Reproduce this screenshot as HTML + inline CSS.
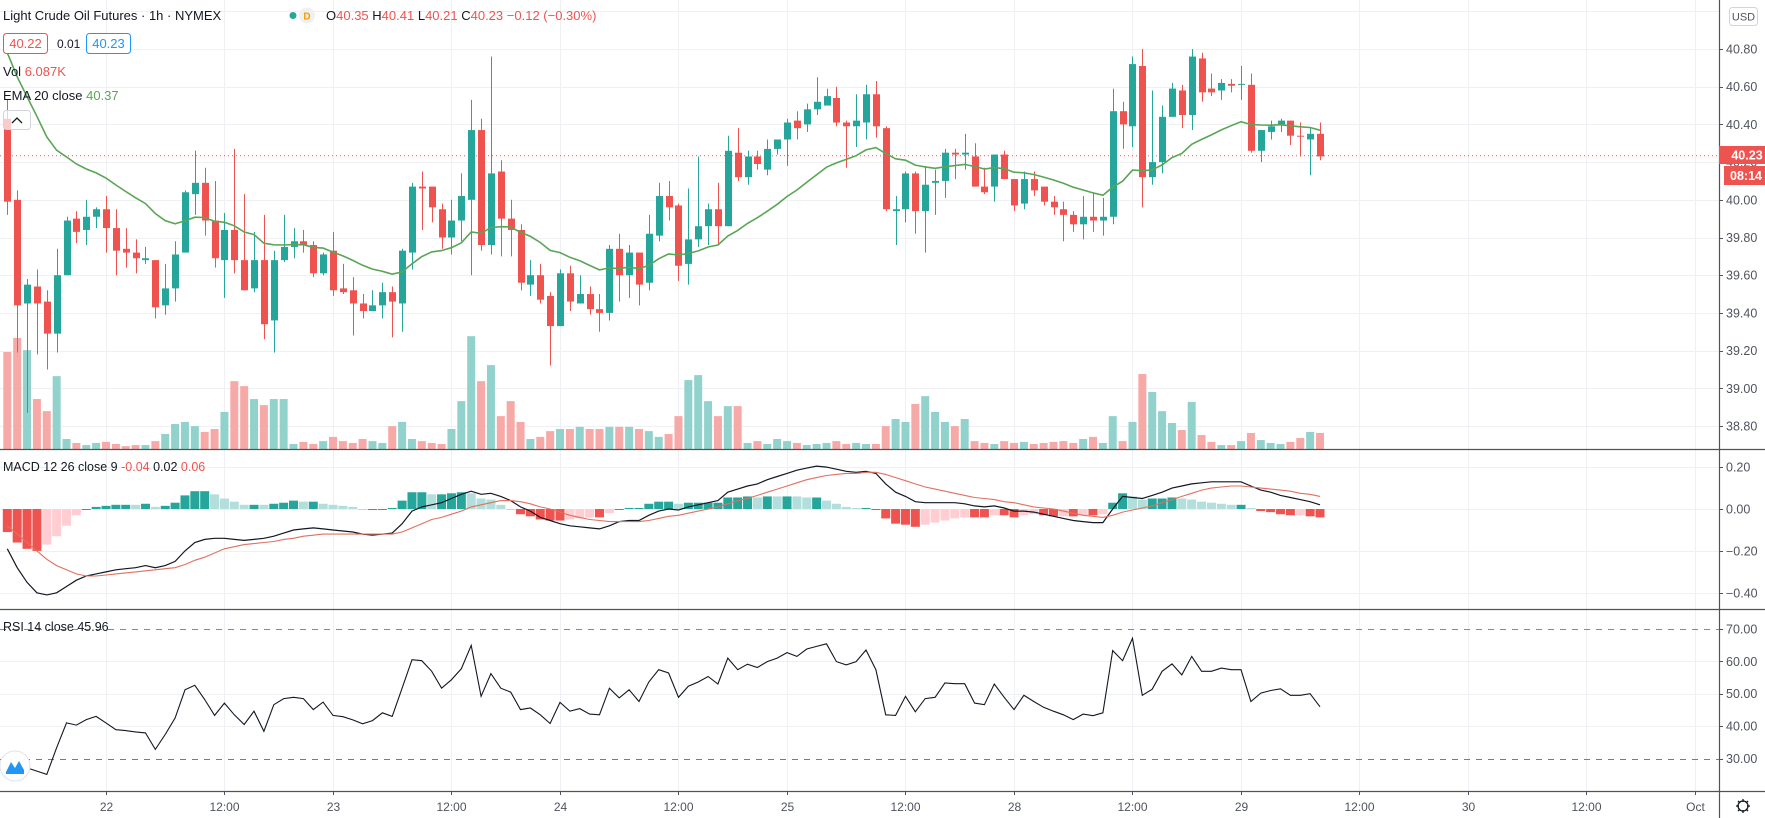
<!DOCTYPE html>
<html><head><meta charset="utf-8">
<style>
html,body{margin:0;padding:0;background:#fff;}
svg{display:block;font-family:"Liberation Sans",sans-serif;}
</style></head>
<body>
<svg id="chart" width="1765" height="818" viewBox="0 0 1765 818" xmlns="http://www.w3.org/2000/svg">
<rect x="0" y="0" width="1765" height="818" fill="#ffffff"/>
<g id="grid"></g>
<g id="volume"></g>
<line x1="0" y1="155.7" x2="1719" y2="155.7" stroke="#ef5350" stroke-width="1" stroke-dasharray="1,3"/>
<g id="candles"></g>
<path id="ema" fill="none" stroke="#5aa556" stroke-width="1.6"/>
<g id="macd"></g>
<g id="rsi"></g>
<g id="axes"></g>

<!-- legends -->
<g font-size="13">
 <text x="3" y="20" fill="#131722">Light Crude Oil Futures · 1h · NYMEX</text>
 <circle cx="293" cy="15.5" r="3.5" fill="#26a69a"/>
 <circle cx="307" cy="15.5" r="8" fill="#f0f0f0"/>
 <text x="307" y="19.5" font-size="10" text-anchor="middle" fill="#ff9800" font-weight="bold">D</text>
 <text x="326" y="20" fill="#131722">O<tspan fill="#ef5350">40.35</tspan> H<tspan fill="#ef5350">40.41</tspan> L<tspan fill="#ef5350">40.21</tspan> C<tspan fill="#ef5350">40.23</tspan> <tspan fill="#ef5350">−0.12 (−0.30%)</tspan></text>
 <rect x="3.5" y="33.5" width="44" height="20" rx="3" fill="#fff" stroke="#ef5350"/>
 <text x="25.5" y="48" text-anchor="middle" fill="#ef5350">40.22</text>
 <text x="57" y="48" fill="#131722" font-size="12">0.01</text>
 <rect x="86.5" y="33.5" width="44" height="20" rx="3" fill="#fff" stroke="#2196f3"/>
 <text x="108.5" y="48" text-anchor="middle" fill="#2196f3">40.23</text>
 <text x="3" y="76" fill="#131722">Vol <tspan fill="#ef5350">6.087K</tspan></text>
 <text x="3" y="100" fill="#131722">EMA 20 close <tspan fill="#5aa556">40.37</tspan></text>
 <rect x="3.5" y="110.5" width="27" height="19" rx="3" fill="#fff" fill-opacity="0.7" stroke="#d1d4dc"/>
 <path d="M12 123 L17 118 L22 123" fill="none" stroke="#131722" stroke-width="1.3"/>
</g>
<text x="3" y="471" font-size="12.5" fill="#131722">MACD 12 26 close 9 <tspan fill="#ef5350">-0.04</tspan> <tspan fill="#131722">0.02</tspan> <tspan fill="#ef5350">0.06</tspan></text>
<text x="3" y="631" font-size="12.5" fill="#131722">RSI 14 close <tspan fill="#131722">45.96</tspan></text>

<!-- price axis extras -->
<rect x="1729.5" y="7.5" width="28" height="18" rx="3" fill="#fff" stroke="#d1d4dc"/>
<text x="1743.5" y="20.5" font-size="11" text-anchor="middle" fill="#50535e">USD</text>
<rect x="1719" y="146" width="46" height="18" fill="#ef5350"/>
<text x="1747" y="159.5" font-size="12.5" text-anchor="middle" fill="#fff" font-weight="bold">40.23</text>
<rect x="1724" y="166" width="41" height="19" fill="#ef5350"/>
<text x="1746" y="180" font-size="12.5" text-anchor="middle" fill="#fff" font-weight="bold">08:14</text>
<g>
 <circle cx="1743" cy="806" r="5" fill="none" stroke="#131722" stroke-width="1.3"/>
 <path d="M1743 799v3M1743 810v3M1736 806h3M1747 806h3M1738 801l2 2M1746 809l2 2M1738 811l2-2M1746 803l2-2" stroke="#131722" stroke-width="1.3"/>
</g>
<g>
 <circle cx="15" cy="766" r="15" fill="#fff" stroke="#e0e3eb"/>
 <path d="M6 772 L11 762 L15 768 L19 761 L24 770 L24 774 L6 774 Z" fill="#2196f3"/>
</g>

<script>
// ---------------- data ----------------
const timeLabels = ["22","12:00","23","12:00","24","12:00","25","12:00","28","12:00","29","12:00","30","12:00","Oct"];
const timeLabelIndex = [10,22,33,45,56,68,79,91,102,114,125,137,148,160,171];
const priceTicks = [40.80,40.60,40.40,40.20,40.00,39.80,39.60,39.40,39.20,39.00,38.80];
const macdTicks = [0.20,0.00,-0.20,-0.40];
const rsiTicks = [70,60,50,40,30];
const open = [40.43,40.00,39.45,39.54,39.46,39.29,39.60,39.90,39.84,39.91,
39.95,39.85,39.74,39.72,39.68,39.68,39.44,39.53,39.72,40.03,
40.09,39.89,39.68,39.84,39.68,39.53,39.68,39.36,39.68,39.75,
39.78,39.76,39.61,39.73,39.53,39.52,39.45,39.41,39.44,39.51,
39.45,39.72,40.07,40.07,39.95,39.80,39.89,40.00,40.37,39.76,
40.15,39.90,39.84,39.55,39.60,39.49,39.33,39.61,39.45,39.50,
39.42,39.40,39.74,39.60,39.72,39.56,39.81,40.02,39.97,39.66,
39.79,39.86,39.95,39.86,40.25,40.12,40.23,40.16,40.27,40.32,
40.42,40.40,40.48,40.50,40.54,40.41,40.39,40.41,40.56,40.38,
39.94,39.95,40.14,39.94,40.09,40.10,40.25,40.24,40.23,40.07,
40.07,40.24,40.11,39.98,40.11,40.07,39.99,39.95,39.92,39.87,
39.91,39.89,39.91,40.47,40.39,40.71,40.12,40.20,40.44,40.58,
40.45,40.75,40.59,40.58,40.615,40.61,40.61,40.26,40.36,40.40,
40.42,40.34,40.32,40.35];
const high = [40.53,40.05,39.58,39.63,39.52,39.74,39.91,39.94,40.00,39.96,
40.02,39.95,39.85,39.79,39.75,39.68,39.66,39.78,40.05,40.26,
40.17,40.10,39.93,40.27,40.03,39.83,39.92,39.73,39.92,39.85,
39.84,39.78,39.72,39.83,39.66,39.59,39.50,39.52,39.56,39.54,
39.74,40.09,40.15,40.07,39.98,40.00,40.14,40.53,40.43,40.76,
40.21,40.00,39.87,39.68,39.66,39.51,39.63,39.65,39.60,39.54,
39.50,39.76,39.82,39.76,39.72,39.92,40.09,40.10,39.98,40.06,
40.23,39.98,40.09,40.34,40.38,40.26,40.26,40.32,40.32,40.43,
40.47,40.51,40.65,40.59,40.60,40.42,40.56,40.61,40.63,40.39,
40.02,40.15,40.15,40.18,40.16,40.27,40.27,40.35,40.30,40.17,
40.24,40.26,40.11,40.15,40.15,40.07,40.02,39.99,39.94,40.02,
40.04,40.01,40.59,40.52,40.76,40.80,40.58,40.50,40.62,40.61,
40.80,40.78,40.67,40.64,40.64,40.71,40.67,40.37,40.42,40.43,
40.42,40.41,40.38,40.41];
const low = [39.92,39.19,38.87,39.18,39.10,39.19,39.60,39.77,39.76,39.85,
39.72,39.60,39.64,39.61,39.66,39.37,39.39,39.46,39.72,39.92,
39.81,39.64,39.48,39.61,39.52,39.51,39.26,39.19,39.67,39.69,
39.72,39.59,39.60,39.49,39.50,39.28,39.37,39.41,39.37,39.27,
39.30,39.63,39.84,39.88,39.74,39.71,39.78,39.60,39.73,39.71,
39.70,39.70,39.52,39.49,39.45,39.12,39.33,39.41,39.45,39.39,
39.30,39.36,39.46,39.48,39.44,39.52,39.78,39.89,39.57,39.55,
39.75,39.76,39.76,39.86,40.10,40.08,40.16,40.13,40.24,40.18,
40.32,40.36,40.45,40.50,40.39,40.17,40.28,40.32,40.33,39.94,
39.76,39.88,39.82,39.72,39.92,40.01,40.11,40.16,40.07,40.03,
39.99,40.11,39.94,39.95,40.02,39.97,39.92,39.78,39.83,39.79,
39.83,39.81,39.87,40.27,40.28,39.96,40.08,40.14,40.44,40.38,
40.37,40.52,40.55,40.53,40.57,40.53,40.25,40.20,40.32,40.36,
40.29,40.23,40.13,40.21];
const close = [39.99,39.44,39.55,39.45,39.29,39.60,39.89,39.83,39.91,39.95,
39.85,39.73,39.72,39.69,39.69,39.43,39.53,39.71,40.04,40.09,
39.89,39.69,39.84,39.68,39.52,39.68,39.34,39.68,39.75,39.78,
39.76,39.61,39.71,39.52,39.51,39.45,39.41,39.44,39.51,39.46,
39.73,40.07,40.06,39.96,39.80,39.89,40.02,40.37,39.76,40.14,
39.90,39.84,39.56,39.60,39.47,39.33,39.61,39.46,39.50,39.42,
39.40,39.74,39.60,39.72,39.55,39.82,40.02,39.96,39.65,39.79,
39.86,39.95,39.86,40.26,40.12,40.23,40.19,40.27,40.32,40.41,
40.38,40.48,40.52,40.55,40.41,40.39,40.42,40.56,40.39,39.95,
39.95,40.14,39.94,40.08,40.10,40.25,40.24,40.25,40.07,40.04,
40.24,40.11,39.97,40.11,40.05,39.99,39.96,39.92,39.87,39.91,
39.89,39.91,40.47,40.40,40.72,40.12,40.20,40.44,40.59,40.45,
40.76,40.57,40.57,40.62,40.605,40.615,40.26,40.37,40.39,40.42,
40.34,40.335,40.35,40.23];
const volumeK = [36.9,42.2,37.6,19.0,14.4,27.7,3.8,2.3,1.5,2.3,
2.7,1.9,1.1,1.5,1.5,3.0,5.7,9.5,10.3,8.7,
6.5,7.6,14.1,25.8,23.9,19.0,16.7,19.0,19.0,1.9,
2.7,1.9,3.0,4.6,3.0,2.3,3.8,3.0,2.3,8.7,
10.3,3.8,3.0,2.3,1.9,7.6,18.2,42.9,25.8,31.9,
12.5,18.2,10.3,3.8,4.6,6.8,7.6,7.6,8.4,7.6,
7.6,8.4,8.4,8.4,7.6,6.8,4.6,5.7,12.5,26.2,
28.1,18.2,12.5,16.3,16.3,2.3,3.0,1.9,3.8,3.0,
2.3,1.5,1.9,2.3,3.0,1.9,2.3,1.9,1.9,8.7,
11.4,10.3,17.1,20.1,14.1,10.3,8.7,11.4,3.0,2.3,
1.9,3.0,2.3,2.7,1.9,2.3,2.7,3.0,2.3,3.8,
4.6,2.3,12.5,3.0,10.3,28.5,21.7,14.4,9.9,7.2,
17.9,5.3,2.7,1.5,1.5,3.0,6.1,3.4,2.3,1.9,
2.7,4.2,6.5,6.087];
const emaSeed = 40.78;
const macdLine = [-0.19,-0.28,-0.35,-0.40,-0.41,-0.40,-0.37,-0.34,-0.32,-0.31,
-0.30,-0.29,-0.285,-0.28,-0.27,-0.28,-0.27,-0.25,-0.20,-0.16,
-0.145,-0.14,-0.14,-0.145,-0.15,-0.145,-0.14,-0.13,-0.115,-0.10,
-0.095,-0.09,-0.095,-0.10,-0.105,-0.11,-0.12,-0.125,-0.12,-0.115,
-0.07,-0.01,0.01,0.02,0.03,0.05,0.07,0.085,0.07,0.075,
0.06,0.04,0.01,-0.01,-0.04,-0.055,-0.07,-0.08,-0.085,-0.09,
-0.095,-0.08,-0.06,-0.055,-0.055,-0.03,-0.01,0.00,-0.005,0.01,
0.02,0.03,0.04,0.08,0.095,0.11,0.12,0.14,0.155,0.17,
0.185,0.195,0.205,0.20,0.19,0.18,0.175,0.18,0.17,0.12,
0.08,0.06,0.035,0.03,0.03,0.03,0.03,0.025,0.015,0.01,
0.015,0.005,-0.01,-0.01,-0.015,-0.025,-0.035,-0.045,-0.055,-0.06,
-0.065,-0.065,0.00,0.06,0.055,0.05,0.065,0.08,0.10,0.11,
0.12,0.125,0.13,0.13,0.13,0.13,0.11,0.09,0.08,0.065,
0.055,0.045,0.035,0.02];
const signalLine = [-0.08,-0.12,-0.16,-0.20,-0.24,-0.27,-0.29,-0.31,-0.32,-0.32,
-0.315,-0.31,-0.305,-0.30,-0.295,-0.29,-0.285,-0.28,-0.265,-0.245,
-0.23,-0.21,-0.19,-0.18,-0.17,-0.165,-0.16,-0.155,-0.145,-0.14,
-0.13,-0.125,-0.12,-0.12,-0.12,-0.12,-0.12,-0.12,-0.12,-0.12,
-0.11,-0.09,-0.07,-0.05,-0.04,-0.025,-0.01,0.01,0.02,0.03,
0.04,0.04,0.035,0.025,0.01,0.00,-0.015,-0.03,-0.04,-0.05,
-0.055,-0.06,-0.06,-0.06,-0.06,-0.055,-0.045,-0.035,-0.03,-0.02,
-0.01,0.00,0.01,0.025,0.04,0.05,0.065,0.08,0.095,0.11,
0.125,0.14,0.15,0.16,0.165,0.17,0.17,0.175,0.175,0.165,
0.15,0.135,0.12,0.105,0.095,0.085,0.075,0.065,0.055,0.05,
0.045,0.035,0.03,0.02,0.01,0.005,0.00,-0.01,-0.02,-0.03,
-0.035,-0.04,-0.03,-0.015,-0.005,0.005,0.015,0.03,0.045,0.06,
0.075,0.09,0.10,0.105,0.11,0.11,0.105,0.10,0.095,0.09,
0.085,0.075,0.07,0.06];
const rsiValues = [31.7,28.7,27.1,26.1,25.1,33.3,41.0,40.3,42.0,43.0,
41.0,38.9,38.6,38.2,37.9,32.8,37.4,42.5,51.2,52.6,
48.2,43.3,47.1,43.5,40.5,44.6,38.4,46.6,48.5,48.9,
48.5,45.1,47.4,43.3,42.9,41.9,40.7,41.7,44.1,43.0,
51.7,60.5,60.2,56.9,51.7,54.3,57.7,64.9,49.2,56.2,
51.7,50.5,45.1,45.6,43.5,40.8,47.3,44.6,45.4,43.7,
43.5,51.7,48.7,51.2,47.6,53.6,57.4,56.4,48.9,52.3,
53.6,55.3,53.0,61.0,57.4,59.1,58.1,59.9,61.0,62.7,
61.5,63.8,64.6,65.4,59.9,58.9,59.9,63.5,57.4,43.5,
43.3,49.2,44.4,48.5,48.9,53.3,53.1,53.1,47.1,46.6,
53.0,48.9,45.1,49.5,47.6,45.8,44.6,43.5,42.0,43.7,
43.2,44.1,63.3,60.2,67.1,49.5,51.4,56.9,59.2,55.8,
61.5,56.9,56.9,57.9,57.4,57.4,47.6,50.2,51.0,51.5,
49.5,49.5,50.0,45.96];

// ---------------- scales ----------------
const NS = "http://www.w3.org/2000/svg";
const X0 = 7.3, STEP = 9.87, AXIS_X = 1719;
const xAt = i => X0 + STEP * i;
const yPrice = p => 49 + (40.80 - p) * 188.5;
const yMacd = v => 509 - v * 209.5;
const yRsi = v => 693.7 - (v - 50) * 3.24;
const VOL_BASE = 449, VOL_PX_PER_K = 2.63;
const yVolTop = v => VOL_BASE - v * VOL_PX_PER_K;
const GREEN = "#26a69a", RED = "#ef5350";

function mk(tag, attrs, parent) {
  const el = document.createElementNS(NS, tag);
  for (const k in attrs) el.setAttribute(k, attrs[k]);
  parent.appendChild(el);
  return el;
}

// ---------------- grid ----------------
const grid = document.getElementById("grid");
timeLabelIndex.forEach((idx, k) => {
  const gx = Math.round(xAt(idx)) + 0.5;
  const gl = mk("line", {x1: gx, y1: 0, x2: gx, y2: 791, stroke: "#eef0f4", "stroke-width": 1}, grid);
  
  
});
[41.0].concat(priceTicks).forEach(p => {
  const gy = Math.round(yPrice(p)) + 0.5;
  const gl = mk("line", {x1: 0, y1: gy, x2: AXIS_X, y2: gy, stroke: "#eef0f4"}, grid);
  
  
});
macdTicks.forEach(v => {
  const gy = Math.round(yMacd(v)) + 0.5;
  const gl = mk("line", {x1: 0, y1: gy, x2: AXIS_X, y2: gy, stroke: "#eef0f4"}, grid);
  
  
});
[60, 50, 40].forEach(v => {
  const gy = Math.round(yRsi(v)) + 0.5;
  const gl = mk("line", {x1: 0, y1: gy, x2: AXIS_X, y2: gy, stroke: "#eef0f4"}, grid);
  
  
});

// ---------------- volume ----------------
const volG = document.getElementById("volume");
volumeK.forEach((v, i) => {
  const up = close[i] >= open[i];
  const top = yVolTop(v);
  const r = mk("rect", {x: xAt(i) - 4, y: top, width: 8, height: VOL_BASE - top, fill: up ? "#92d2cc" : "#f7a9a7"}, volG);
  
  
});

// ---------------- candles ----------------
const cG = document.getElementById("candles");
open.forEach((o, i) => {
  const c = close[i], up = c >= o, col = up ? GREEN : RED;
  const cx = Math.round(xAt(i)) + 0.5;
  const g = mk("g", {}, cG);
  
  
  mk("line", {x1: cx, y1: yPrice(high[i]), x2: cx, y2: yPrice(low[i]), stroke: col, "stroke-width": 1}, g);
  const yt = yPrice(Math.max(o, c)), yb = yPrice(Math.min(o, c));
  mk("rect", {x: cx - 3.5, y: yt, width: 7, height: Math.max(1, yb - yt), fill: col}, g);
});

// ---------------- EMA 20 ----------------
let ema = emaSeed, emaD = "";
const alpha = 2 / 21;
close.forEach((c, i) => {
  if (i > 0) ema = ema + alpha * (c - ema);
  emaD += (i ? "L" : "M") + xAt(i).toFixed(1) + " " + yPrice(ema).toFixed(1);
});
document.getElementById("ema").setAttribute("d", emaD);

// ---------------- MACD ----------------
const mG = document.getElementById("macd");
let prevH = 0;
macdLine.forEach((m, i) => {
  const h = m - signalLine[i];
  let col;
  if (h >= 0) col = h >= prevH ? GREEN : "#b2dfdb";
  else col = h <= prevH ? RED : "#ffcdd2";
  prevH = h;
  const y0 = yMacd(0), y1 = yMacd(h);
  const r = mk("rect", {x: xAt(i) - 4.5, y: Math.min(y0, y1), width: 9, height: Math.max(1, Math.abs(y1 - y0)), fill: col}, mG);
  
  
});
const macdPath = mk("path", {d: macdLine.map((v, i) => (i ? "L" : "M") + xAt(i).toFixed(1) + " " + yMacd(v).toFixed(1)).join(""), fill: "none", stroke: "#131722", "stroke-width": 1.2}, mG);


const sigPath = mk("path", {d: signalLine.map((v, i) => (i ? "L" : "M") + xAt(i).toFixed(1) + " " + yMacd(v).toFixed(1)).join(""), fill: "none", stroke: "#e0705f", "stroke-width": 1.1}, mG);



// ---------------- RSI ----------------
const rG = document.getElementById("rsi");
const ob = mk("line", {x1: 0, y1: Math.round(yRsi(70)) + 0.5, x2: AXIS_X, y2: Math.round(yRsi(70)) + 0.5, stroke: "#5f9e86", "stroke-dasharray": "6,6"}, rG);


const os = mk("line", {x1: 0, y1: Math.round(yRsi(30)) + 0.5, x2: AXIS_X, y2: Math.round(yRsi(30)) + 0.5, stroke: "#d9534f", "stroke-dasharray": "6,6"}, rG);


const rsiPath = mk("path", {d: rsiValues.map((v, i) => (i ? "L" : "M") + xAt(i).toFixed(1) + " " + yRsi(v).toFixed(1)).join(""), fill: "none", stroke: "#131722", "stroke-width": 1.1}, rG);



// ---------------- axes ----------------
const aG = document.getElementById("axes");
const sep = [[0, 449.5, 1765, 449.5], [0, 609.5, 1765, 609.5], [0, 791.5, 1765, 791.5], [AXIS_X + 0.5, 0, AXIS_X + 0.5, 818]];
sep.forEach(s => {
  const l = mk("line", {x1: s[0], y1: s[1], x2: s[2], y2: s[3], stroke: "#50535e", "stroke-width": 1.2}, aG);
  
  
});
function axisLabel(txt, y, name) {
  const t = mk("line", {x1: AXIS_X, y1: Math.round(y) + 0.5, x2: AXIS_X + 4, y2: Math.round(y) + 0.5, stroke: "#50535e"}, aG);
  
  
  const tx = mk("text", {x: AXIS_X + 7, y: y + 4.5, "font-size": 12.5, fill: "#50535e"}, aG);
  tx.textContent = txt;
  
  
}
priceTicks.forEach(p => axisLabel(p.toFixed(2), yPrice(p), 'price-axis'));
macdTicks.forEach(v => axisLabel(v < 0 ? "−" + Math.abs(v).toFixed(2) : v.toFixed(2), yMacd(v), 'macd-axis'));
rsiTicks.forEach(v => axisLabel(v.toFixed(2), yRsi(v), 'rsi-axis'));
timeLabels.forEach((lab, k) => {
  const tx0 = Math.round(xAt(timeLabelIndex[k])) + 0.5;
  const tk = mk("line", {x1: tx0, y1: 791, x2: tx0, y2: 795, stroke: "#50535e"}, aG);
  
  
  const t = mk("text", {x: tx0, y: 811, "font-size": 12, fill: "#50535e", "text-anchor": "middle"}, aG);
  t.textContent = lab;
  
  
});
</script>
</svg>
</body></html>
